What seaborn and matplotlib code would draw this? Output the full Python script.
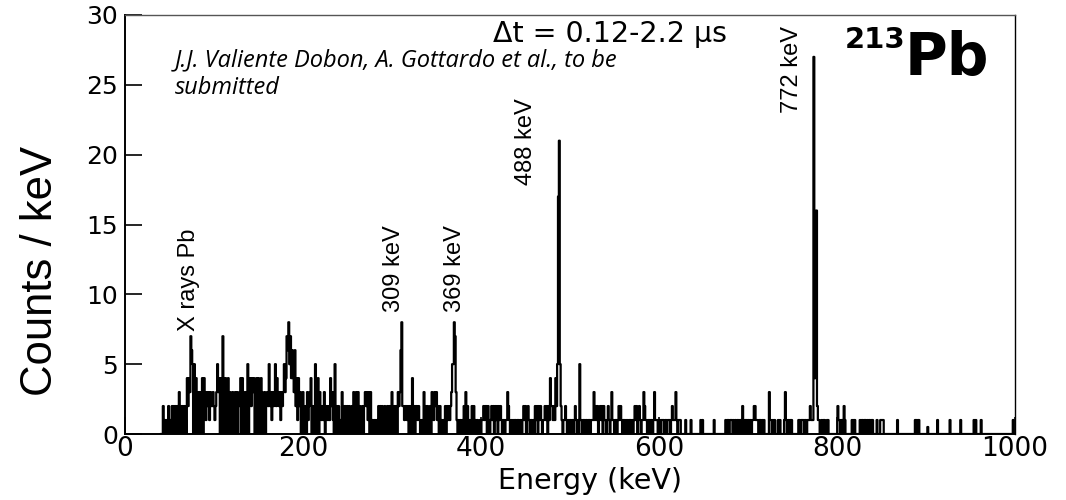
import numpy as np
import pandas as pd
import matplotlib
matplotlib.use("Agg")
import matplotlib.pyplot as plt
import seaborn as sns
from matplotlib import font_manager as fm

# ---------------- data: counts per keV, 1 keV bins ----------------
counts_040_099 = [0,0,0,2,0,1,0,1,0,2,
                  0,1,0,2,0,2,0,2,0,2,
                  0,3,0,2,0,2,0,2,1,0,
                  4,2,4,3,7,6,5,0,5,0,
                  4,0,3,0,3,0,3,4,0,4,
                  3,1,3,2,3,1,3,2,2,3]
counts_100_199 = [2,1,2,3,5,3,4,0,4,0,
                  7,0,3,4,0,3,4,0,3,0,
                  2,3,0,1,3,0,3,0,2,3,
                  4,0,4,0,2,3,0,2,5,0,
                  4,4,2,4,3,4,0,3,4,0,
                  4,3,0,4,3,0,2,3,0,2,
                  3,2,5,2,3,1,3,2,3,5,
                  2,4,3,2,3,1,3,2,3,5,
                  3,4,7,6,8,5,7,4,6,4,
                  3,6,2,4,1,4,2,3,0,2]
counts_200_299 = [3,0,1,2,0,3,1,2,3,4,
                  0,2,0,1,5,0,3,4,0,3,
                  2,1,2,1,3,0,2,2,1,2,
                  1,4,2,3,1,0,5,0,2,0,
                  2,0,1,0,3,0,2,0,2,0,
                  2,0,2,0,1,2,0,3,0,2,
                  3,0,3,0,2,0,1,2,0,2,
                  3,2,3,1,3,0,3,0,1,0,
                  1,0,1,0,1,2,0,2,0,2,
                  0,1,2,0,1,2,0,2,1,0]
counts_300_399 = [3,0,1,2,0,2,0,3,2,3,
                  6,8,2,2,1,2,2,1,2,0,
                  2,0,1,4,0,2,0,2,2,1,
                  2,1,0,1,0,1,3,0,2,0,
                  2,0,1,2,0,3,2,1,3,2,
                  3,1,2,0,2,0,1,0,1,0,
                  2,0,2,1,2,1,2,3,5,5,
                  8,7,3,1,0,1,0,1,0,1,
                  0,2,0,3,0,2,0,1,0,1,
                  2,0,2,0,1,0,1,0,0,1]
counts_400_499 = [0,1,1,2,1,2,2,0,2,1,
                  0,1,2,1,2,0,2,1,2,0,
                  2,1,2,1,0,1,1,0,1,1,
                  3,2,1,0,1,0,1,0,1,1,
                  0,1,1,0,1,1,0,1,2,1,
                  2,0,1,2,1,0,1,1,0,1,
                  0,2,1,2,0,2,1,2,1,0,
                  1,1,2,1,2,0,2,1,4,2,
                  2,1,2,1,4,2,5,17,21,5,
                  2,1,0,1,1,2,1,0,1,0]
counts_500_599 = [1,1,0,1,0,1,2,1,0,1,
                  0,5,1,1,0,1,1,0,1,1,
                  0,1,1,0,1,1,1,3,1,2,
                  1,2,0,1,2,1,2,0,2,1,
                  1,0,1,2,1,0,1,3,1,1,
                  0,1,1,0,1,2,1,2,1,0,
                  1,1,0,1,0,1,0,1,1,0,
                  1,0,1,2,1,2,0,1,2,1,
                  0,1,1,3,2,1,1,0,1,1,
                  0,1,1,0,1,3,1,1,1,0]
counts_600_699 = [1,1,0,1,1,1,0,1,1,0,
                  1,1,1,0,1,2,1,1,1,3,
                  1,0,1,1,1,0,0,0,0,0,
                  1,0,0,0,0,0,1,0,0,0,
                  0,0,0,0,0,0,0,1,0,1,
                  0,0,0,0,0,0,0,0,0,0,
                  0,0,1,0,0,0,0,0,0,0,
                  0,0,0,0,0,1,0,1,1,0,
                  1,1,1,0,1,0,1,0,1,1,
                  0,1,1,0,2,1,0,1,1,0]
counts_700_799 = [1,1,0,1,0,1,1,2,2,1,
                  1,1,0,1,1,0,1,0,1,0,
                  0,0,0,0,3,1,1,0,1,0,
                  1,0,0,0,1,0,1,0,0,0,
                  0,1,3,1,0,1,1,0,1,1,
                  0,0,0,0,0,0,0,1,1,0,
                  1,1,1,0,1,1,0,1,1,1,
                  2,1,1,1,27,4,4,16,2,1,
                  1,0,0,1,0,1,1,0,0,1,
                  1,0,0,0,0,0,0,0,0,0]
counts_800_899 = [0,2,1,1,0,1,1,0,2,1,
                  0,0,0,0,0,0,0,1,0,1,
                  1,0,0,0,0,0,1,0,1,1,
                  0,1,1,0,1,0,1,1,0,1,
                  1,0,0,0,0,1,0,0,0,1,
                  1,1,1,0,0,0,0,0,0,0,
                  0,0,0,0,0,0,0,0,1,0,
                  0,0,0,0,0,0,0,0,0,0,
                  0,0,0,0,0,0,0,0,1,1,
                  0,1,1,0,0,0,0,0,0,0]
counts_900_1000 = [0,0,0.5,0,0,0,0,0,0,0,
                   0,0,0,1,0,0,0,0,0,0,
                   0,0,0,0,0,0,0,1,0,0,
                   0,0,0,0,0,0,0,0,0,1,
                   0,0,0,0,0,0,0,0,0,0,
                   0,0,0,0,1,0,1,0,0,0,
                   0,0,1,0,0,0,0,0,0,0,
                   0,0,0,0,0,0,0,0,0,0,
                   0,0,0,0,0,0,0,0,0,0,
                   0,0,0,0,0,0,0,0,1,0,
                   0]

energy_first, energy_last = 40, 1000
x_ticks = [0, 200, 400, 600, 800, 1000]
y_ticks = [0, 5, 10, 15, 20, 25, 30]
peak_labels = ["X rays Pb", "309 keV", "369 keV", "488 keV", "772 keV"]
peak_label_x = [72, 302, 371, 450, 750]
peak_label_y = [7.4, 8.7, 8.7, 17.8, 23.0]

counts = np.array(counts_040_099 + counts_100_199 + counts_200_299 + counts_300_399
                  + counts_400_499 + counts_500_599 + counts_600_699 + counts_700_799
                  + counts_800_899 + counts_900_1000, dtype=float)
energy = np.arange(energy_first, energy_last + 1).astype(float)
df = pd.DataFrame({"energy": energy, "counts": counts})

# ---------------- style ----------------
sns.set_theme(style="white")
plt.rcParams["font.family"] = ["DejaVu Sans"]

names = {f.name for f in fm.fontManager.ttflist}
narrow = None
for cand in ["Liberation Sans Narrow", "DejaVu Sans Condensed", "Arial Narrow"]:
    if cand in names:
        narrow = cand
        break
if narrow is None:
    narrow_family = ["Liberation Sans", "DejaVu Sans"]
    nscale = 0.85
else:
    narrow_family = [narrow, "DejaVu Sans"]
    nscale = 1.0

fig = plt.figure(figsize=(10.66, 5.0), dpi=100)
ax = fig.add_axes([125 / 1066, 66 / 500, 890 / 1066, 419 / 500])

bin_edges = [energy_first - 0.5 + i for i in range(energy_last - energy_first + 2)]
sns.histplot(data=df, x="energy", weights="counts", bins=bin_edges,
             element="step", fill=False, color="black", linewidth=1.6, ax=ax)

ax.set_xlim(0, 1000)
ax.set_ylim(0, 30)
ax.set_xticks(x_ticks)
ax.set_yticks(y_ticks)
ax.set_xticklabels([str(v) for v in x_ticks], fontsize=19)
ax.set_yticklabels([str(v) for v in y_ticks], fontsize=18)
ax.tick_params(axis="both", direction="in", length=12, width=1.2, colors="black",
               left=True, bottom=True, top=False, right=False)
ax.tick_params(axis="x", pad=1.5)
ax.tick_params(axis="y", pad=5)
for side, sp in ax.spines.items():
    sp.set_color("black")
    sp.set_linewidth(1.4 if side in ("left", "bottom") else 1.0)
ax.spines["top"].set_color("#555555")

ax.set_xlabel("Energy (keV)", fontsize=20.5, color="black")
ax.xaxis.set_label_coords(0.522, -0.0785)
ax.set_ylabel("Counts / keV", fontsize=37 * nscale, color="black", family=narrow_family)
ax.yaxis.set_label_coords(-0.072, 0.39)

for lab, lx, ly in zip(peak_labels, peak_label_x, peak_label_y):
    ax.text(lx, ly, lab, rotation=90, ha="center", va="bottom",
            fontsize=20 * nscale, family=narrow_family, color="black")

ax.text(0.413, 0.936, "\u0394t = 0.12-2.2 \u03bcs", transform=ax.transAxes,
        fontsize=20.5, ha="left", va="baseline", color="black")
ax.text(0.056, 0.878, "J.J. Valiente Dobon, A. Gottardo et al., to be",
        transform=ax.transAxes, fontsize=17, style="italic",
        family=["Open Sans", "DejaVu Sans"], ha="left", va="baseline", color="black")
ax.text(0.056, 0.811, "submitted", transform=ax.transAxes, fontsize=17,
        style="italic", family=["Open Sans", "DejaVu Sans"], ha="left", va="baseline",
        color="black")
ax.text(0.809, 0.921, "213", transform=ax.transAxes, fontsize=21, weight="bold",
        ha="left", va="baseline", color="black")
ax.text(0.876, 0.857, "Pb", transform=ax.transAxes, fontsize=42, weight="bold",
        ha="left", va="baseline", color="black")

fig.savefig("out.png", dpi=100, facecolor="white")
